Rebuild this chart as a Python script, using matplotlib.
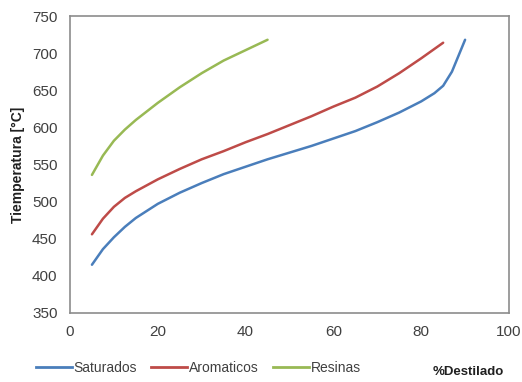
import matplotlib
matplotlib.use("Agg")
import matplotlib.pyplot as plt
from matplotlib.lines import Line2D

x_sat = [5, 7.5, 10, 12.5, 15, 20, 25, 30, 35, 40, 45, 50, 55, 60, 65, 70, 75, 80, 83, 85, 87, 90]
y_sat = [415, 436, 452, 466, 478, 497, 512, 525, 537, 547, 557, 566, 575, 585, 595, 607, 620, 635, 646, 656, 675, 718]
x_aro = [5, 7.5, 10, 12.5, 15, 20, 25, 30, 35, 40, 45, 50, 55, 60, 65, 70, 75, 80, 85]
y_aro = [456, 477, 493, 505, 514, 530, 544, 557, 568, 580, 591, 603, 615, 628, 640, 655, 673, 693, 714]
x_res = [5, 7.5, 10, 12.5, 15, 20, 25, 30, 35, 40, 45]
y_res = [536, 562, 582, 597, 610, 633, 654, 673, 690, 704, 718]

series = ["Saturados", "Aromaticos", "Resinas"]
colors = ["#4a7ebb", "#be4b48", "#98b954"]
xticks = [0, 20, 40, 60, 80, 100]
yticks = [350, 400, 450, 500, 550, 600, 650, 700, 750]

plt.rcParams['font.family'] = ['Liberation Sans', 'DejaVu Sans']

fig = plt.figure(figsize=(5.22, 3.82), dpi=100)
W, H = 522, 382
ax = fig.add_axes([70 / W, 1 - 313 / H, (509 - 70) / W, (313 - 16) / H])

for xs, ys, c in zip([x_sat, x_aro, x_res], [y_sat, y_aro, y_res], colors):
    ax.plot(xs, ys, color=c, lw=1.8, solid_capstyle='round', solid_joinstyle='round')

ax.set_xlim(0, 100)
ax.set_ylim(350, 750)
ax.set_xticks(xticks)
ax.set_yticks(yticks)
ax.tick_params(length=0, labelsize=11, colors='#404040', pad=9)
for s in ax.spines.values():
    s.set_color('#8c8c8c')
    s.set_linewidth(1.2)

ax.set_ylabel("Tiemperatura [°C]", fontsize=10, fontweight='bold', color='#202020', labelpad=5)

handles = [Line2D([0], [0], color=c, lw=2.0) for c in colors]
fig.legend(handles, series, loc='center left', bbox_to_anchor=(30 / W, 1 - 368 / H),
           ncol=3, frameon=False, fontsize=10, handlelength=2.6, handletextpad=0.15,
           columnspacing=1.0, labelcolor='#404040', borderaxespad=0)
fig.text(468 / W, 1 - 372 / H, "%Destilado", ha='center', va='center', fontsize=9.5,
         fontweight='bold', color='#202020')

fig.savefig("out.png", dpi=100)
